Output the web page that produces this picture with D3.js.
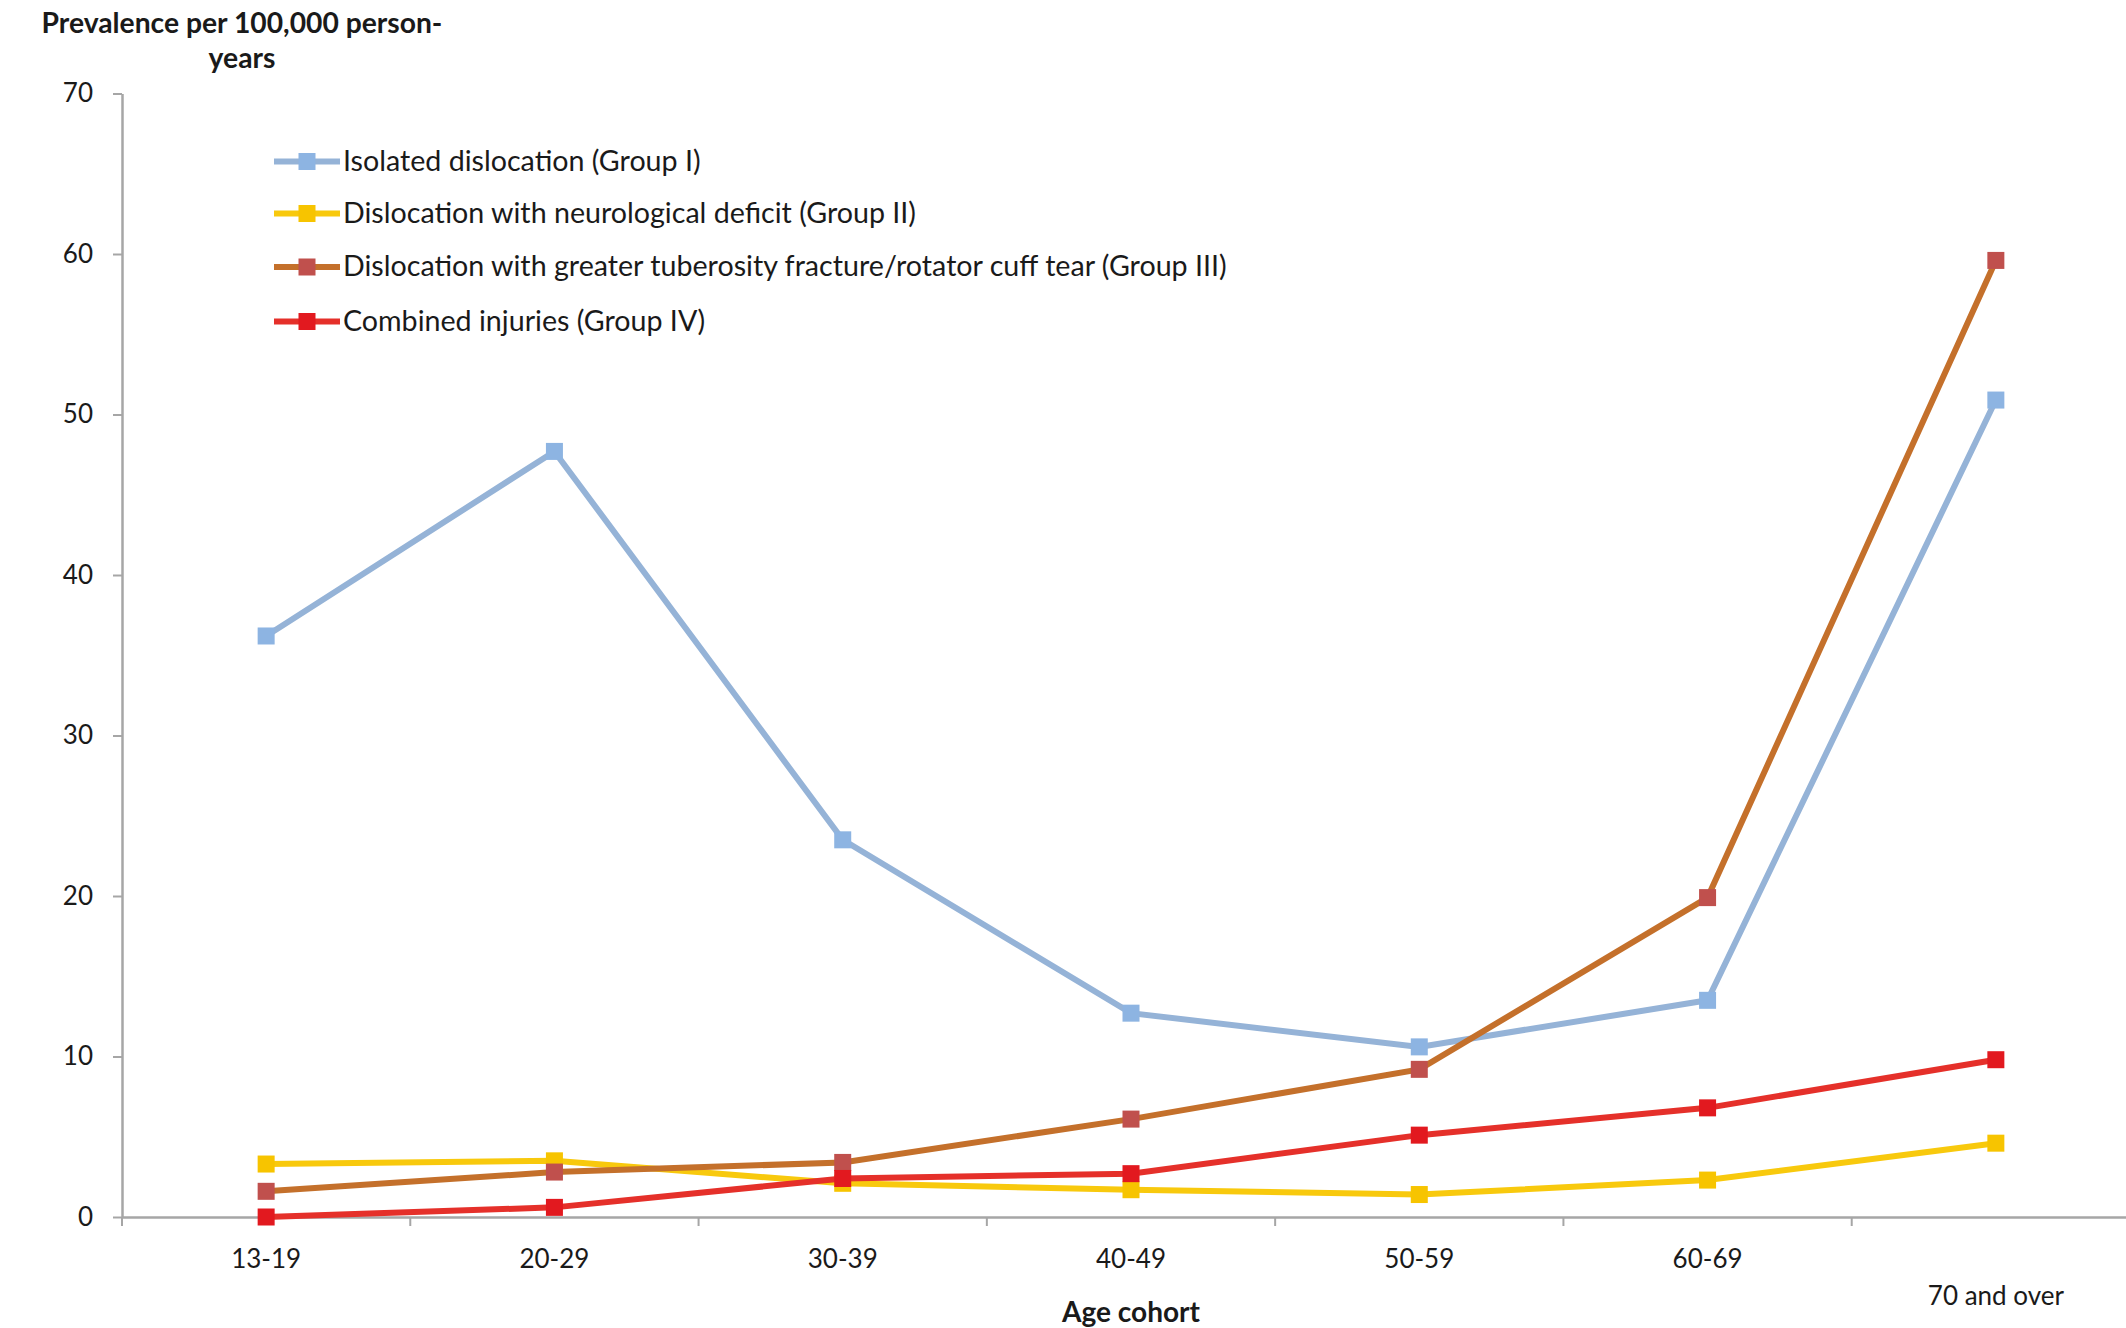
<!DOCTYPE html>
<html>
<head>
<meta charset="utf-8">
<script src="https://cdn.jsdelivr.net/npm/d3@7/dist/d3.min.js"></script>
<style>
  html, body { margin: 0; padding: 0; background: #ffffff; }
  svg { display: block; }
  text { font-family: Lato, "Open Sans", sans-serif; fill: #1a1a1a; }
</style>
</head>
<body>
<svg id="chart" width="2126" height="1328"></svg>
<script>
// ---------- Data ----------
const categories = ["13-19", "20-29", "30-39", "40-49", "50-59", "60-69", "70 and over"];
const seriesNames = [
  "Isolated dislocation (Group I)",
  "Dislocation with neurological deficit (Group II)",
  "Dislocation with greater tuberosity fracture/rotator cuff tear (Group III)",
  "Combined injuries (Group IV)"
];
const groupI   = [36.2, 47.7, 23.5, 12.7, 10.6, 13.5, 50.9];
const groupII  = [3.3, 3.5, 2.1, 1.7, 1.4, 2.3, 4.6];
const groupIII = [1.6, 2.8, 3.4, 6.1, 9.2, 19.9, 59.6];
const groupIV  = [0.0, 0.6, 2.4, 2.7, 5.1, 6.8, 9.8];
const yTicks = [0, 10, 20, 30, 40, 50, 60, 70];
const yTitleLines = ["Prevalence per 100,000 person-", "years"];
const xTitle = "Age cohort";

// ---------- Styles ----------
const lineColors   = ["#95B3D7", "#F8C90D", "#C4702B", "#E5302A"];
const markerColors = ["#8DB4E2", "#F7C400", "#C0504D", "#E2191F"];

const svg = d3.select("#chart");
const x = d3.scaleBand().domain(categories).range([122, 2140]).paddingInner(0).paddingOuter(0);
const y = d3.scaleLinear().domain([0, 70]).range([1217, 93.5]);
const cx = c => x(c) + x.bandwidth() / 2;

const axisColor = "#A6A6A6";

// Y axis
const yAxis = svg.append("g").attr("transform", `translate(${x.range()[0]},0)`)
  .call(d3.axisLeft(y).tickValues(yTicks).tickSize(9).tickSizeOuter(0).tickPadding(20).tickFormat(d3.format("d")));
yAxis.select(".domain").attr("stroke", axisColor).attr("stroke-width", 2.5);
yAxis.selectAll(".tick line").attr("stroke", axisColor).attr("stroke-width", 2);
yAxis.selectAll(".tick text").attr("font-size", 26).attr("font-family", "Lato").attr("fill", "#1a1a1a");

// X axis (labels)
const xAxis = svg.append("g").attr("transform", `translate(0,${y(0)})`)
  .call(d3.axisBottom(x).tickSize(0).tickSizeOuter(0).tickPadding(33));
xAxis.select(".domain").attr("stroke", axisColor).attr("stroke-width", 2.5);
xAxis.selectAll(".tick text").attr("font-size", 26).attr("font-family", "Lato").attr("fill", "#1a1a1a")
  .attr("dy", (d, i) => i === categories.length - 1 ? "2.1em" : "0.71em");
// boundary ticks
svg.append("g").selectAll("line").data(categories).join("line")
  .attr("x1", d => x(d)).attr("x2", d => x(d))
  .attr("y1", y(0)).attr("y2", y(0) + 9)
  .attr("stroke", axisColor).attr("stroke-width", 2);

// Fit helper
function fit(sel, target) {
  const n = sel.node();
  const fs = parseFloat(sel.attr("font-size"));
  const w = n.getComputedTextLength();
  sel.attr("font-size", (fs * target / w).toFixed(2));
}

// Axis titles
const yt = svg.append("text").attr("x", 242).attr("y", 33).attr("text-anchor", "middle")
  .attr("font-weight", "bold").attr("font-size", 22).text(yTitleLines[0]);
fit(yt, 401);
svg.append("text").attr("x", 242).attr("y", 68).attr("text-anchor", "middle")
  .attr("font-weight", "bold").attr("font-size", yt.attr("font-size")).text(yTitleLines[1]);
const xt = svg.append("text").attr("x", 1131).attr("y", 1322).attr("text-anchor", "middle")
  .attr("font-weight", "bold").attr("font-size", 24).text(xTitle);
fit(xt, 138);

// Series
const allSeries = [groupI, groupII, groupIII, groupIV];
const line = d3.line().x((d, i) => cx(categories[i])).y(d => y(d));
const msize = 17;
allSeries.forEach((vals, k) => {
  const g = svg.append("g");
  g.append("path").datum(vals).attr("d", line).attr("fill", "none")
    .attr("stroke", lineColors[k]).attr("stroke-width", 6).attr("stroke-linejoin", "miter");
  g.selectAll("rect").data(vals).join("rect")
    .attr("x", (d, i) => cx(categories[i]) - msize / 2)
    .attr("y", d => y(d) - msize / 2)
    .attr("width", msize).attr("height", msize)
    .attr("fill", markerColors[k]);
});

// Legend
const legendRows = [161.5, 213.5, 267, 321.5];
const lg = svg.append("g");
seriesNames.forEach((name, k) => {
  const ry = legendRows[k];
  lg.append("line").attr("x1", 274).attr("x2", 340).attr("y1", ry).attr("y2", ry)
    .attr("stroke", lineColors[k]).attr("stroke-width", 6);
  lg.append("rect").attr("x", 307 - msize / 2).attr("y", ry - msize / 2)
    .attr("width", msize).attr("height", msize).attr("fill", markerColors[k]);
  lg.append("text").attr("class", "lt").attr("x", 343).attr("y", ry + 9)
    .attr("font-size", 25).text(name);
});
const longest = lg.selectAll("text.lt").filter((d, i) => i === 2);
fit(longest, 884);
lg.selectAll("text.lt").attr("font-size", longest.attr("font-size"));
</script>
</body>
</html>
